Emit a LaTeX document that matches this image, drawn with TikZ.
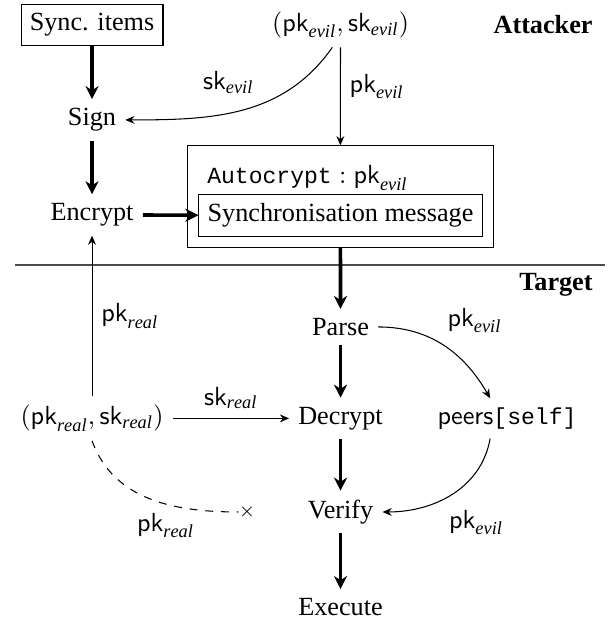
\documentclass[tikz,border=0pt]{standalone}
\usepackage{fontspec}
\setmainfont{Liberation Serif}
\setmonofont[Scale=0.88]{Liberation Mono}
\usepackage{tikz}
\usetikzlibrary{arrows.meta, fit, positioning}

\newcommand{\pkey}[1]{\mathsf{pk}_{\mathit{#1}}}
\newcommand{\skey}[1]{\mathsf{sk}_{\mathit{#1}}}

\begin{document}
\begin{tikzpicture}[>={Stealth[length=3.5pt,width=3pt]},
    flow/.style={-{Stealth[length=5pt,width=5pt]}, line width=1.4pt},
    itembox/.style={draw, inner sep=0.333em}]
    \useasboundingbox (0,0) rectangle (8.25,8.30);

    % attacker side
    \node[itembox] (sync) at (1.234, 7.966) {Sync. items};
    \node (keysevil) at (4.566, 7.966) {$(\pkey{evil}, \skey{evil})$};
    \node[anchor=east, font=\bfseries] (attacker) at (8.07, 7.966) {Attacker};
    \node (sign) at (1.234, 6.692) {Sign};
    \node (encrypt) at (1.234, 5.418) {Encrypt};
    \node[itembox] (msg) at (4.566, 5.41) {Synchronisation message};
    \node[anchor=west] (autocrypt) at (2.655, 5.914) {$\texttt{Autocrypt}: \pkey{evil}$};
    \node[draw, fit=(autocrypt)(msg), inner sep=0.14cm] (wrapper) {};

    % separator
    \coordinate (sepleft) at (0.201, 4.747);
    \coordinate (sepright) at (8.113, 4.747);
    \draw[black!70] (sepleft) -- (sepright);

    % target side
    \node[anchor=east, font=\bfseries] (target) at (8.07, 4.479) {Target};
    \node (parse) at (4.566, 3.916) {Parse};
    \node (decrypt) at (4.566, 2.69) {Decrypt};
    \node (peers) at (6.799, 2.69) {$\mathsf{peers}$\texttt{[self]}};
    \node (keysreal) at (1.234, 2.69) {$(\pkey{real}, \skey{real})$};
    \node (verify) at (4.566, 1.435) {Verify};
    \node (execute) at (4.566, 0.16) {Execute};
    \node[font=\scriptsize, inner sep=0pt] (cross) at (3.312, 1.435) {$\times$};

    \draw[flow] (sync) -- (sign);
    \draw[flow] (sign) -- (encrypt);
    \draw[flow] (encrypt) -- (msg);
    \draw[flow] (wrapper) -- (parse);
    \draw[flow] (parse) -- (decrypt);
    \draw[flow] (decrypt) -- (verify);
    \draw[flow] (verify) -- (execute);

    \draw[->] (keysevil.250) to[out=-125, in=0] node[pos=0.4, above left] {$\skey{evil}$} (sign.east);
    \draw[->] (keysevil) -- node[pos=0.4, right] {$\pkey{evil}$} (wrapper);
    \draw[->] (keysreal) -- node[right] {$\pkey{real}$} (encrypt);
    \draw[->] (keysreal) -- node[above] {$\skey{real}$} (decrypt);
    \draw[->] (parse.east) to[out=0, in=120] node[pos=0.45, above right] {$\pkey{evil}$} (peers.130);
    \draw[->] (peers.230) to[out=-100, in=0] node[pos=0.6, below right] {$\pkey{evil}$} (verify.east);
    \draw[dashed] (keysreal.south) to[out=-70, in=180] node[pos=0.6, below] {$\pkey{real}$} (cross);
\end{tikzpicture}
\end{document}
